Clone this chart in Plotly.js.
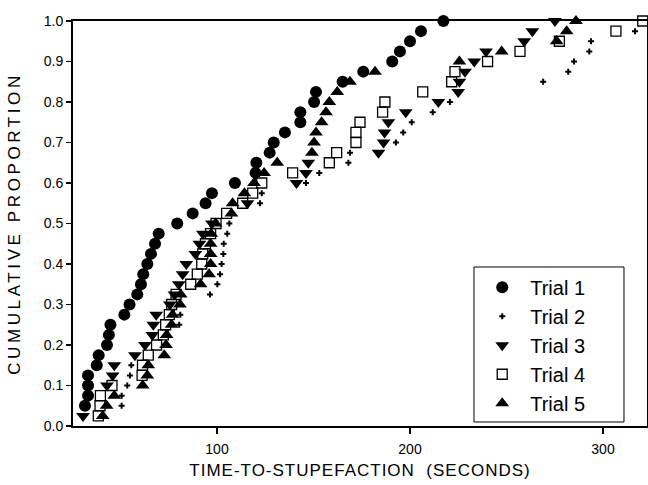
<!DOCTYPE html>
<html>
<head>
<meta charset="utf-8">
<script src="https://cdn.plot.ly/plotly-3.0.1.min.js"></script>
<style>
html,body{margin:0;padding:0;background:#fff;}
#chart{width:648px;height:485px;}
.xtitle{letter-spacing:1px;}
.ytitle{letter-spacing:3.6px;}
</style>
</head>
<body>
<div id="chart"></div>
<script>
var trialNames = ["Trial 1", "Trial 2", "Trial 3", "Trial 4", "Trial 5"];

var t1x = [31.6, 33.2, 33.2, 33.2, 37.7, 38.7, 43, 44, 44.8, 52, 54.7, 58.7, 60.6, 61.8, 63.9, 65.8, 67.9, 69.8, 79.4, 87.4, 94.1, 97.4, 109.3, 120, 120.4, 127.3, 129.4, 135.2, 143.2, 143.2, 150.3, 151.3, 165.1, 175.8, 190.8, 194.8, 200, 205.7, 217.3];
var t1y = [0.05, 0.075, 0.1, 0.125, 0.15, 0.175, 0.2, 0.225, 0.25, 0.275, 0.3, 0.325, 0.35, 0.375, 0.4, 0.425, 0.45, 0.475, 0.5, 0.525, 0.55, 0.575, 0.6, 0.625, 0.65, 0.675, 0.7, 0.725, 0.75, 0.775, 0.8, 0.825, 0.85, 0.875, 0.9, 0.925, 0.95, 0.975, 1.0];

var t2x = [50.6, 50.6, 53.5, 54.9, 55.6, 80.4, 81, 96.4, 100.2, 101.6, 102.4, 103.3, 103.5, 105.3, 106.4, 122.3, 123.2, 146.1, 153, 168.1, 168.9, 192.7, 196.5, 200.9, 211.8, 220.7, 269, 282, 285, 292.9, 293.8, 316.6];
var t2y = [0.05, 0.075, 0.1, 0.125, 0.15, 0.25, 0.275, 0.325, 0.35, 0.375, 0.4, 0.425, 0.45, 0.475, 0.5, 0.55, 0.575, 0.6, 0.625, 0.65, 0.675, 0.7, 0.725, 0.75, 0.775, 0.8, 0.85, 0.875, 0.9, 0.925, 0.95, 0.975];

var t3x = [30.6, 43, 45.9, 46.8, 57.5, 62.7, 66.5, 67, 68.5, 75.6, 78, 80.2, 82.2, 84.1, 88.8, 90.9, 92.7, 97.4, 115.8, 141.2, 146.1, 147.3, 183.7, 186.3, 186.8, 188.8, 197.8, 214.7, 225, 225.6, 228.5, 233.3, 239.4, 259.2, 263.4, 275.1];
var t3y = [0.025, 0.1, 0.125, 0.15, 0.175, 0.2, 0.225, 0.25, 0.275, 0.3, 0.325, 0.35, 0.375, 0.4, 0.425, 0.45, 0.475, 0.5, 0.55, 0.6, 0.625, 0.65, 0.675, 0.7, 0.725, 0.75, 0.775, 0.8, 0.825, 0.85, 0.875, 0.9, 0.925, 0.95, 0.975, 1.0];

var t4x = [38.5, 39.4, 39.6, 45.6, 61.2, 61.4, 64.4, 68.7, 72.2, 73.4, 75.3, 76.5, 78.8, 86.4, 89.8, 92.1, 92.6, 94, 96.7, 99.5, 105, 113.3, 118.5, 123.2, 139.2, 158.2, 162, 172, 172, 174.1, 185.8, 187, 206.6, 221.6, 223.3, 240.2, 257, 277.4, 306.7, 320.6];
var t4y = [0.025, 0.05, 0.075, 0.1, 0.125, 0.15, 0.175, 0.2, 0.225, 0.25, 0.275, 0.3, 0.325, 0.35, 0.375, 0.4, 0.425, 0.45, 0.475, 0.5, 0.525, 0.55, 0.575, 0.6, 0.625, 0.65, 0.675, 0.7, 0.725, 0.75, 0.775, 0.8, 0.825, 0.85, 0.875, 0.9, 0.925, 0.95, 0.975, 1.0];

var t5x = [40.8, 42.8, 46.8, 61.5, 63.9, 64.4, 72.7, 73.6, 73.9, 76.5, 77, 80.8, 81.2, 91.5, 95.9, 96.7, 96.7, 96.7, 97, 99.3, 107.5, 108.1, 114.2, 119.2, 124.4, 131.2, 149.2, 150.3, 151.3, 154.2, 156.5, 158.2, 162.3, 168.9, 181.9, 225.6, 247.5, 276, 281.2, 286];
var t5y = [0.025, 0.05, 0.075, 0.1, 0.125, 0.15, 0.175, 0.2, 0.225, 0.25, 0.275, 0.3, 0.325, 0.35, 0.375, 0.4, 0.425, 0.45, 0.475, 0.5, 0.525, 0.55, 0.575, 0.6, 0.625, 0.65, 0.675, 0.7, 0.725, 0.75, 0.775, 0.8, 0.825, 0.85, 0.875, 0.9, 0.925, 0.95, 0.975, 1.0];

var yTickVals = [0, 0.1, 0.2, 0.3, 0.4, 0.5, 0.6, 0.7, 0.8, 0.9, 1.0];
var yTickText = ["0.0", "0.1", "0.2", "0.3", "0.4", "0.5", "0.6", "0.7", "0.8", "0.9", "1.0"];
var xTickVals = [100, 200, 300];
var xTickText = ["100", "200", "300"];

var FONT = "Liberation Sans, Arial, Helvetica, sans-serif";

var xs = [t1x, t2x, t3x, t4x, t5x];
var ys = [t1y, t2y, t3y, t4y, t5y];
var markers = [
  {symbol: "circle", size: 12, color: "#000"},
  {symbol: "cross", size: 5, color: "#000"},
  {symbol: "triangle-down", size: 12, color: "#000"},
  {symbol: "square-open", size: 10, color: "#000", line: {width: 1.3, color: "#000"}},
  {symbol: "triangle-up", size: 12, color: "#000"}
];

var data = trialNames.map(function (name, i) {
  return {
    type: "scatter", mode: "markers", name: name,
    x: xs[i], y: ys[i], legendgroup: "g" + i,
    marker: markers[i], cliponaxis: false
  };
});

var layout = {
  width: 648, height: 485,
  margin: {l: 73, r: 1, t: 21, b: 59},
  paper_bgcolor: "#fff", plot_bgcolor: "#fff",
  font: {family: FONT, color: "#000", size: 14},
  showlegend: true,
  legend: {
    x: 0.699, y: 0.008, xanchor: "left", yanchor: "bottom",
    borderwidth: 0, bgcolor: "rgba(0,0,0,0)",
    font: {family: FONT, size: 20, color: "#000"},
    tracegroupgap: 1, itemwidth: 46, traceorder: "normal"
  },
  shapes: [{
    type: "rect", xref: "paper", yref: "paper", layer: "above",
    x0: 0.6986, x1: 0.9599, y0: 0.0099, y1: 0.3926,
    line: {color: "#000", width: 1}, fillcolor: "#fff"
  }],
  xaxis: {
    range: [25.4, 322.8], tickvals: xTickVals, ticktext: xTickText,
    ticks: "outside", ticklen: 6, tickwidth: 1.5, tickcolor: "#000",
    showline: true, linecolor: "#000", linewidth: 2, mirror: true,
    showgrid: false, zeroline: false, ticklabelstandoff: 3,
    tickfont: {family: FONT, size: 14},
    title: {text: "TIME-TO-STUPEFACTION\u00a0\u00a0(SECONDS)", font: {family: FONT, size: 17}, standoff: 8}
  },
  yaxis: {
    range: [0, 1], tickvals: yTickVals, ticktext: yTickText,
    ticks: "outside", ticklen: 5, tickwidth: 1.5, tickcolor: "#000",
    showline: true, linecolor: "#000", linewidth: 2, mirror: true,
    showgrid: false, zeroline: false,
    tickfont: {family: FONT, size: 14},
    title: {text: "CUMULATIVE PROPORTION", font: {family: FONT, size: 17}, standoff: 19}
  }
};

Plotly.newPlot("chart", data, layout, {displayModeBar: false, staticPlot: true});
</script>
</body>
</html>
